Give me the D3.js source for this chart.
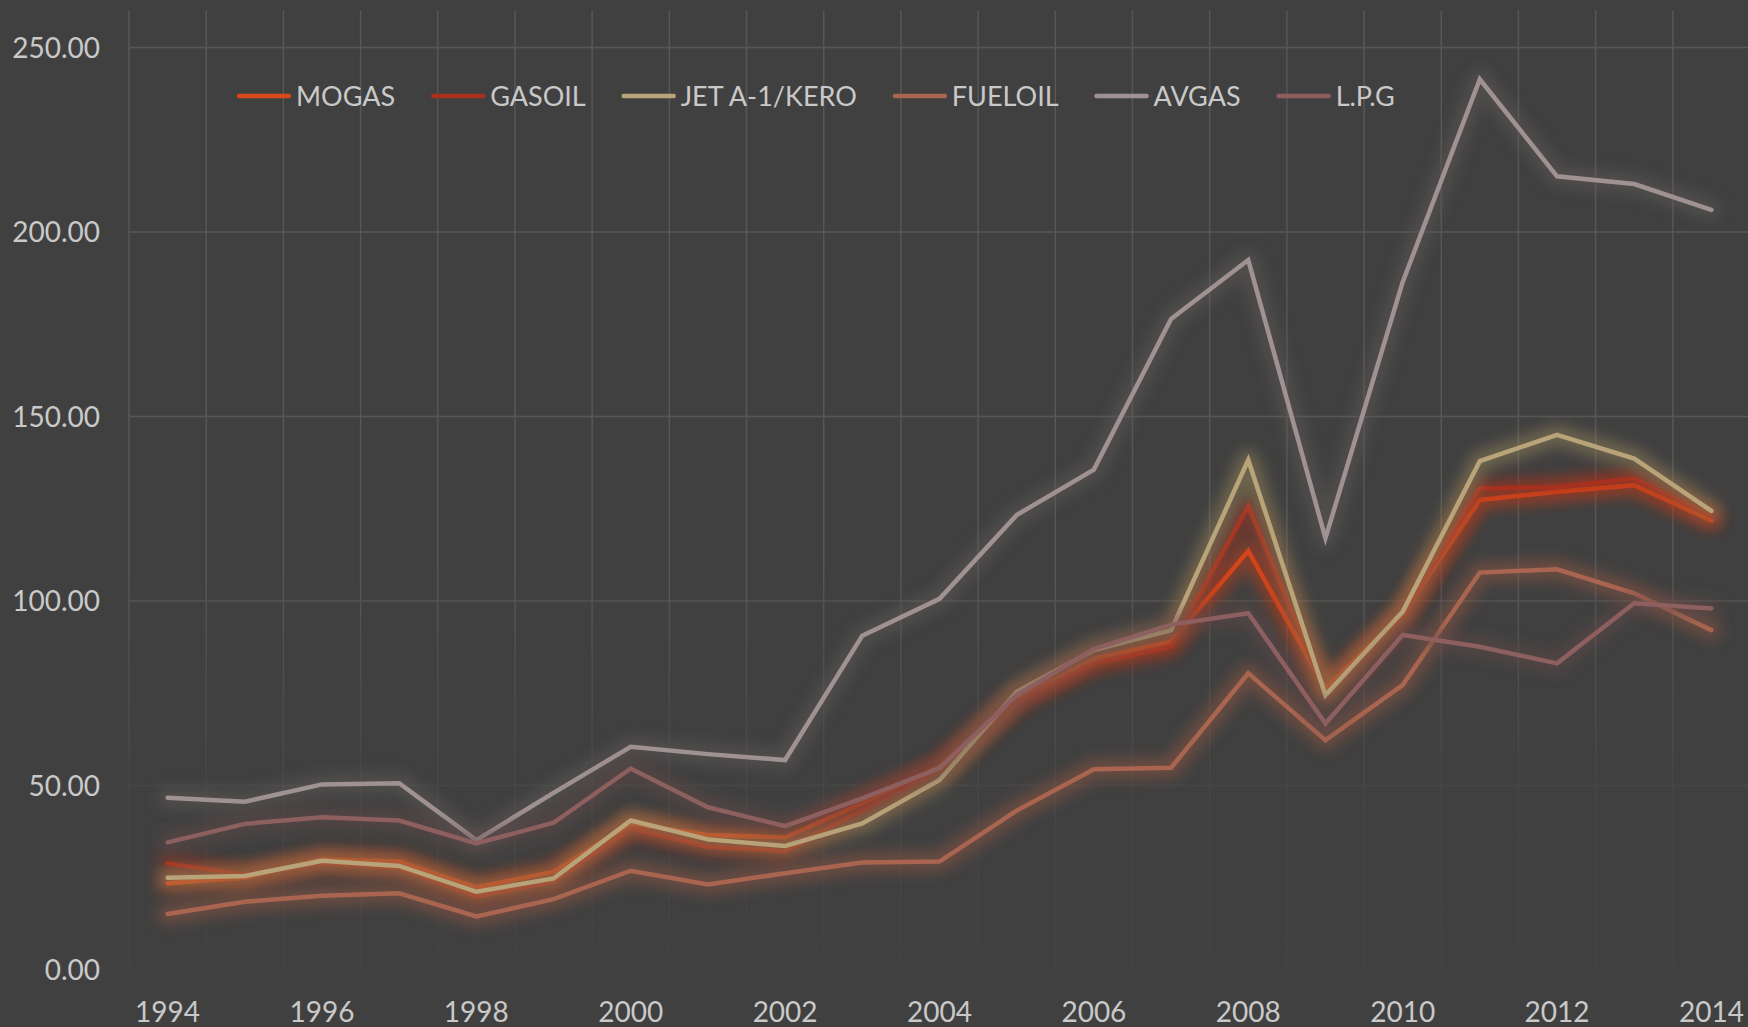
<!DOCTYPE html>
<html>
<head>
<meta charset="utf-8">
<script src="https://cdn.jsdelivr.net/npm/d3@7"></script>
<style>
  html, body { margin: 0; padding: 0; background: #404040; }
  svg { display: block; }
</style>
</head>
<body>
<svg id="chart" width="1748" height="1027"></svg>
<script>
// data
const years = [1994, 1995, 1996, 1997, 1998, 1999, 2000, 2001, 2002, 2003, 2004,
               2005, 2006, 2007, 2008, 2009, 2010, 2011, 2012, 2013, 2014];
const mogas   = [23.5, 25.0, 30.0, 29.4, 22.4, 26.6, 39.7, 36.6, 35.9, 45.2, 55.1, 73.6, 84.4, 89.0, 113.6, 76.3, 96.5, 127.4, 129.6, 131.4, 121.8];
const gasoil  = [28.9, 25.8, 29.0, 27.6, 19.9, 23.9, 38.4, 33.4, 32.2, 43.5, 54.2, 72.7, 83.1, 87.6, 125.7, 75.0, 96.0, 130.5, 130.8, 133.2, 122.9];
const jet     = [25.0, 25.5, 29.6, 28.2, 21.2, 24.8, 40.5, 35.4, 33.6, 39.7, 51.5, 75.4, 86.7, 92.1, 138.2, 74.5, 97.1, 137.9, 145.0, 138.6, 124.4];
const fueloil = [15.2, 18.5, 20.1, 20.8, 14.5, 19.2, 26.9, 23.2, 26.2, 29.1, 29.4, 43.2, 54.4, 54.8, 80.4, 62.3, 77.2, 107.7, 108.6, 102.1, 92.1];
const avgas   = [46.7, 45.6, 50.3, 50.6, 35.2, 48.0, 60.5, 58.5, 56.9, 90.6, 100.6, 123.3, 135.6, 176.4, 192.4, 117.0, 186.4, 241.4, 215.1, 213.0, 206.0];
const lpg     = [34.6, 39.6, 41.4, 40.5, 34.3, 39.9, 54.6, 44.1, 39.0, 46.5, 54.7, 74.5, 87.0, 93.6, 96.7, 66.8, 90.8, 87.6, 83.1, 99.4, 98.0];

const seriesNames = ["MOGAS", "GASOIL", "JET A-1/KERO", "FUELOIL", "AVGAS", "L.P.G"];
const seriesValues = [mogas, gasoil, jet, fueloil, avgas, lpg];
const yTickValues = [0, 50, 100, 150, 200, 250];
const xTickLabels = [1994, 1996, 1998, 2000, 2002, 2004, 2006, 2008, 2010, 2012, 2014];

const Colors = {
    bg: "#404040",
    grid: "#575757",
    text: "#c9c9c9",
    lines: ["#d8481a", "#a8301f", "#b9a47a", "#a9654f", "#a09292", "#8e5f5f"],
    glows: ["#c8431a", "#a02e1e", "#9a885c", "#985842", "#625a5a", "#654848"]
};
const FONT = "Lato, 'Open Sans', sans-serif";

const W = 1748, H = 1027;
const plot = { left: 129, right: 1750, top: 10.6, bottom: 970 };

const svg = d3.select("#chart");
svg.append("rect").attr("width", W).attr("height", H).attr("fill", Colors.bg);

const x = d3.scaleBand().domain(years).range([plot.left, plot.right]).padding(0);
const cx = d => x(d) + x.bandwidth() / 2;
const y = d3.scaleLinear().domain([0, 260]).range([plot.bottom, plot.top]);

const defs = svg.append("defs");

// gridlines fade out lower in the plot (glow layer in the original)
const grad = defs.append("linearGradient")
    .attr("id", "gridFade")
    .attr("gradientUnits", "userSpaceOnUse")
    .attr("x1", 0).attr("x2", 0).attr("y1", 0).attr("y2", H);
grad.append("stop").attr("offset", 560 / H).attr("stop-color", "#fff");
grad.append("stop").attr("offset", 760 / H).attr("stop-color", "#555");
grad.append("stop").attr("offset", 970 / H).attr("stop-color", "#222");
defs.append("mask").attr("id", "gridMask")
    .append("rect").attr("width", W).attr("height", H).attr("fill", "url(#gridFade)");

defs.append("filter").attr("id", "glow")
    .attr("x", "-10%").attr("y", "-10%").attr("width", "120%").attr("height", "120%")
    .append("feGaussianBlur").attr("stdDeviation", 7);

// grid
const gridG = svg.append("g").attr("mask", "url(#gridMask)");
const edges = years.map(d => x(d)).concat([plot.right]);
gridG.selectAll(".v-grid")
    .data(edges)
    .enter()
    .append("line")
    .attr("class", "v-grid")
    .attr("x1", d => d).attr("x2", d => d)
    .attr("y1", plot.top).attr("y2", plot.bottom)
    .attr("stroke", Colors.grid)
    .attr("stroke-width", 1.5);

gridG.selectAll(".h-grid")
    .data(yTickValues)
    .enter()
    .append("line")
    .attr("class", "h-grid")
    .attr("x1", plot.left).attr("x2", plot.right)
    .attr("y1", d => y(d)).attr("y2", d => y(d))
    .attr("stroke", Colors.grid)
    .attr("stroke-width", 1.5);

// Y axis labels
const yAxis = d3.axisLeft(y)
    .tickValues(yTickValues)
    .tickSize(0)
    .tickPadding(0)
    .tickFormat(d3.format(".2f"));
const yAxisGroup = svg.append("g")
    .attr("transform", "translate(100,0)")
    .call(yAxis);
yAxisGroup.select(".domain").remove();
yAxisGroup.selectAll("text")
    .attr("fill", Colors.text)
    .style("font-family", FONT)
    .style("font-size", "28px")
    .attr("dy", "0.35em");

// X axis labels
const xAxis = d3.axisBottom(x)
    .tickValues(xTickLabels)
    .tickSize(0)
    .tickPadding(0)
    .tickFormat(d => String(d));
const xAxisGroup = svg.append("g")
    .attr("transform", "translate(0,1022)")
    .call(xAxis);
xAxisGroup.select(".domain").remove();
xAxisGroup.selectAll("text")
    .attr("fill", Colors.text)
    .style("font-family", FONT)
    .style("font-size", "28px")
    .attr("y", 0)
    .attr("dy", 0);

// lines, each with its soft glow underneath
const line = d3.line()
    .x((d, i) => cx(years[i]))
    .y(d => y(d));

const seriesG = svg.append("g");
seriesValues.forEach((vals, k) => {
    const g = seriesG.append("g").attr("class", "series");
    g.append("path")
        .datum(vals)
        .attr("d", line)
        .attr("fill", "none")
        .attr("stroke", Colors.glows[k])
        .attr("stroke-width", 20)
        .attr("stroke-linejoin", "round")
        .attr("stroke-linecap", "round")
        .attr("opacity", 0.5)
        .attr("filter", "url(#glow)");
    g.append("path")
        .datum(vals)
        .attr("d", line)
        .attr("fill", "none")
        .attr("stroke", Colors.lines[k])
        .attr("stroke-width", 4.5)
        .attr("stroke-linejoin", "miter")
        .attr("stroke-linecap", "round");
});

// legend, laid out left to right
const legend = svg.append("g").attr("transform", "translate(237,96)");
let lx = 0;
seriesNames.forEach((name, k) => {
    const item = legend.append("g").attr("transform", `translate(${lx},0)`);
    item.append("line")
        .attr("x1", 2).attr("x2", 52)
        .attr("y1", 0).attr("y2", 0)
        .attr("stroke", Colors.lines[k])
        .attr("stroke-width", 4.5)
        .attr("stroke-linecap", "round");
    const t = item.append("text")
        .attr("x", 59)
        .attr("y", 0)
        .attr("dy", "0.36em")
        .attr("fill", Colors.text)
        .style("font-family", FONT)
        .style("font-size", "27px")
        .text(name);
    lx += 59 + t.node().getComputedTextLength() + 36;
});
</script>
</body>
</html>
